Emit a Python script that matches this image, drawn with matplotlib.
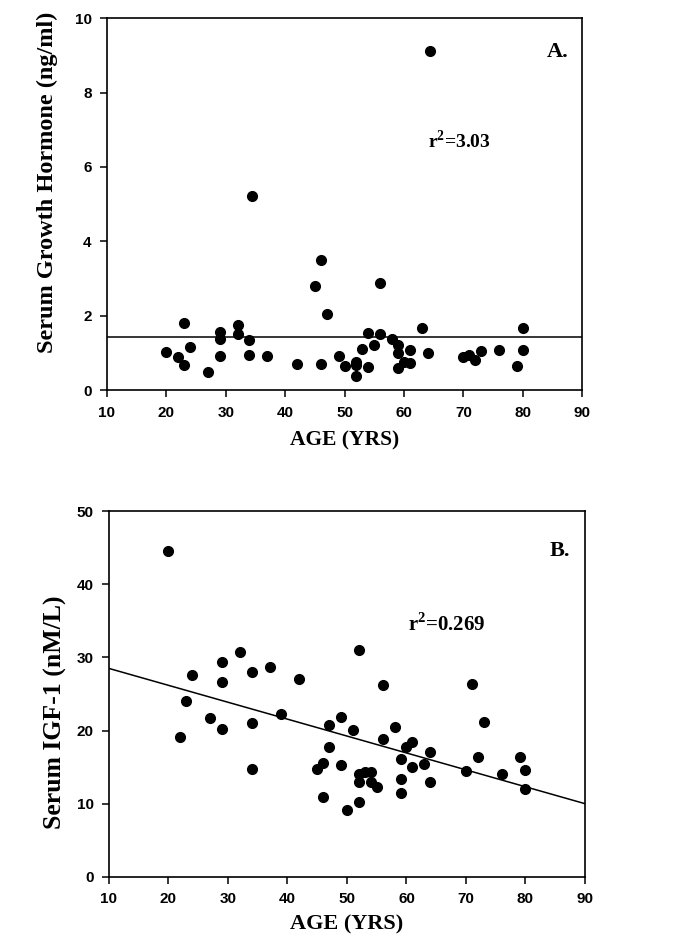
import matplotlib.pyplot as plt

plt.rcParams['mathtext.fontset'] = 'custom'
plt.rcParams['mathtext.rm'] = 'Liberation Serif:bold'
plt.rcParams['mathtext.bf'] = 'Liberation Serif:bold'

# Panel A: serum growth hormone vs age
age_gh = [20, 22, 23, 23, 24, 27, 29, 29, 29, 32, 32, 34, 34, 34.4, 37, 42,
          45, 46, 46, 47, 49, 50, 52, 52, 52, 53, 54, 54, 55, 56, 56, 58,
          59, 59, 59, 60, 61, 61, 63, 64, 64.4, 70, 71, 72, 73, 76, 79, 80, 80]
gh = [1.02, 0.90, 1.82, 0.67, 1.16, 0.49, 1.57, 1.37, 0.93, 1.76, 1.51, 1.35,
      0.95, 5.23, 0.91, 0.70, 2.81, 3.49, 0.71, 2.05, 0.91, 0.64, 0.76, 0.67,
      0.39, 1.12, 1.53, 0.62, 1.23, 2.87, 1.50, 1.37, 1.23, 1.00, 0.59, 0.75,
      1.08, 0.74, 1.67, 1.00, 9.11, 0.90, 0.95, 0.81, 1.06, 1.08, 0.64, 1.67, 1.09]
gh_mean = 1.43

# Panel B: serum IGF-1 vs age
age_igf = [20, 22, 23, 24, 27, 29, 29, 29, 32, 34, 34, 34, 37, 39, 42, 45,
           46, 46, 47, 47, 49, 49, 50, 51, 52, 52, 52, 52, 53, 54, 54, 55,
           56, 56, 58, 59, 59, 59, 60, 61, 61, 63, 64, 64, 70, 71, 72, 73,
           76, 79, 80, 80]
igf = [44.6, 19.1, 24.1, 27.6, 21.7, 29.4, 26.7, 20.2, 30.8, 28.0, 21.0, 14.75,
       28.7, 22.3, 27.1, 14.8, 15.5, 10.9, 20.7, 17.7, 21.9, 15.25, 9.1, 20.1,
       31.0, 14.0, 13.0, 10.2, 14.3, 14.3, 13.0, 12.3, 26.3, 18.8, 20.5, 16.1,
       13.4, 11.4, 17.7, 18.5, 15.0, 15.4, 17.0, 12.9, 14.5, 26.4, 16.4, 21.2,
       14.1, 16.4, 14.6, 12.0]
fit_x = [10, 90]
fit_y = [28.5, 10.0]

xticks = [10, 20, 30, 40, 50, 60, 70, 80, 90]

serif = 'Liberation Serif'
sans = 'Liberation Sans'

fig = plt.figure(figsize=(6.85, 9.52), dpi=100)
ax1 = fig.add_axes([0.156, 0.590, 0.694, 0.391])
ax2 = fig.add_axes([0.159, 0.079, 0.695, 0.384])

# --- A ---
ax1.plot(age_gh, gh, 'o', color='black', markersize=7)
ax1.axhline(gh_mean, color='black', linewidth=1.1)
ax1.set_xlim(10, 90)
ax1.set_ylim(0, 10)
ax1.set_yticks([0, 2, 4, 6, 8, 10])
ax1.set_ylabel('Serum Growth Hormone (ng/ml)', fontfamily=serif,
               fontweight='bold', fontsize=17.5, va='center')
ax1.yaxis.set_label_coords(-0.126, 0.56)
ax1.set_xlabel('AGE (YRS)', fontfamily=serif, fontweight='bold',
               fontsize=15.5, labelpad=8)
ax1.text(84, 9.1, 'A.', fontfamily=serif, fontweight='bold', fontsize=16,
         va='center')
ax1.text(64, 6.7, r'r$^{2}$=3.03', fontfamily=serif, fontweight='bold',
         fontsize=14, va='center')

# --- B ---
ax2.plot(age_igf, igf, 'o', color='black', markersize=7)
ax2.plot(fit_x, fit_y, color='black', linewidth=1.1)
ax2.set_xlim(10, 90)
ax2.set_ylim(0, 50)
ax2.set_yticks([0, 10, 20, 30, 40, 50])
ax2.set_ylabel('Serum IGF-1 (nM/L)', fontfamily=serif, fontweight='bold',
               fontsize=18.5, va='center')
ax2.yaxis.set_label_coords(-0.113, 0.45)
ax2.set_xlabel('AGE (YRS)', fontfamily=serif, fontweight='bold',
               fontsize=16, labelpad=6)
ax2.text(84, 44.6, 'B.', fontfamily=serif, fontweight='bold', fontsize=16,
         va='center')
ax2.text(60.3, 34.5, r'r$^{2}$=0.269', fontfamily=serif,
         fontweight='bold', fontsize=15, va='center')

for ax in (ax1, ax2):
    ax.set_xticks(xticks)
    for s in ax.spines.values():
        s.set_linewidth(1.2)
    ax.tick_params(direction='out', length=5, width=1.1, labelsize=11, pad=6)
    for lab in ax.get_xticklabels() + ax.get_yticklabels():
        lab.set_fontfamily(sans)
        lab.set_fontweight('bold')

fig.savefig('out.png', dpi=100)
